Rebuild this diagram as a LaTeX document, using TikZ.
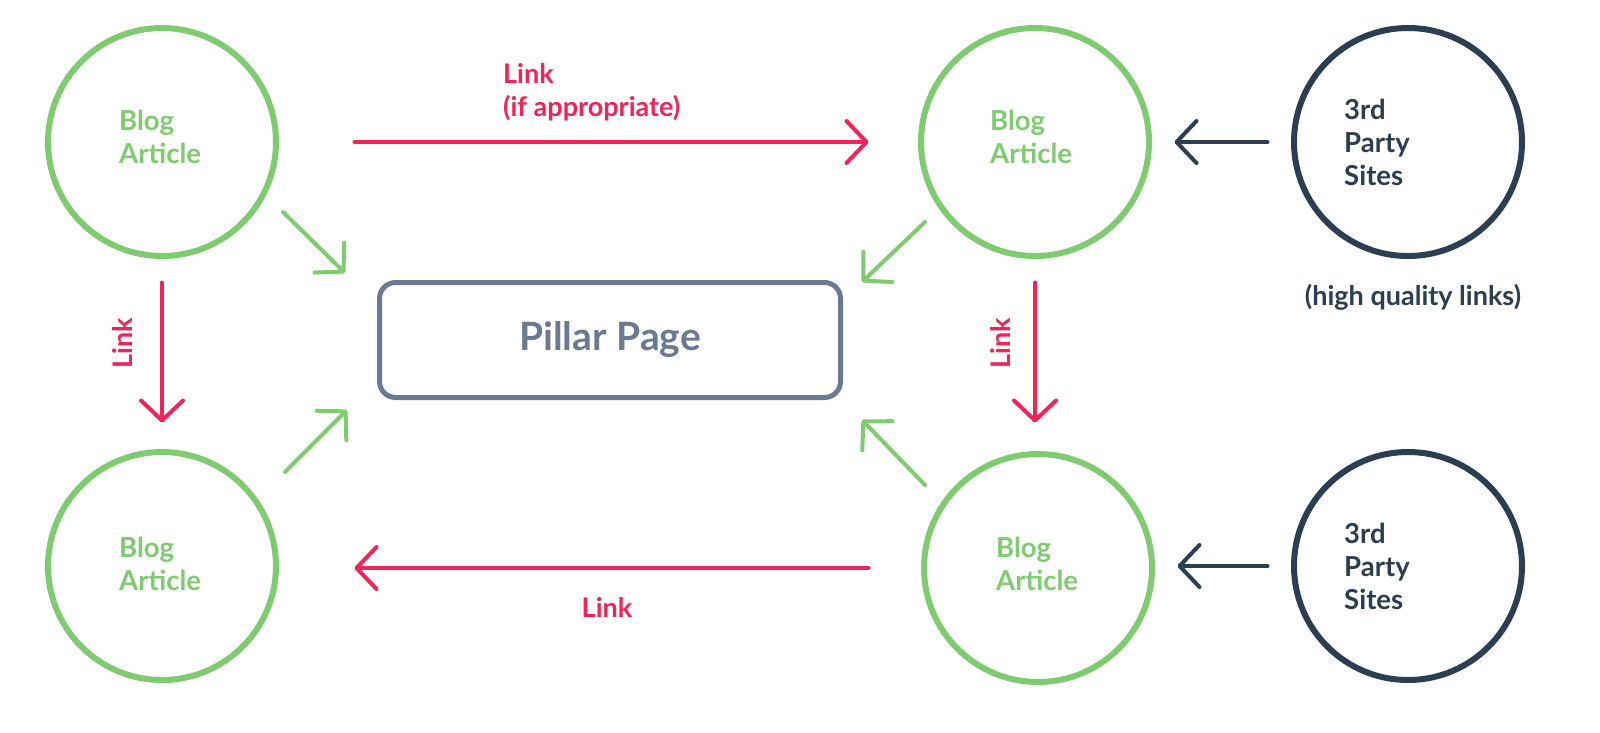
\documentclass[tikz,border=0pt]{standalone}
\usepackage{fontspec}
\setmainfont{Lato}
\usetikzlibrary{arrows.meta}
\definecolor{bgreen}{HTML}{7FCC70}
\definecolor{lred}{HTML}{F02459}
\definecolor{navy}{HTML}{2C3E52}
\definecolor{pgray}{HTML}{6B7A92}
\begin{document}
\begin{tikzpicture}[x=1pt,y=-1pt,
  blogc/.style={circle, draw=bgreen, line width=6pt, minimum size=228pt, inner sep=0pt},
  thirdc/.style={circle, draw=navy, line width=6pt, minimum size=228pt, inner sep=0pt},
  txt/.style={font=\fontsize{27.5}{33}\selectfont\bfseries, align=left, inner sep=0pt, anchor=west},
  lbl/.style={font=\fontsize{27}{33}\selectfont\bfseries, text=lred, inner sep=0pt},
  chevtip/.style={-{Straight Barb[length=20pt,width=42pt,round]}},
  linkarrow/.style={lred, line width=4pt, line cap=round, chevtip},
  greenarrow/.style={bgreen, line width=4pt, line cap=round, chevtip},
  navyarrow/.style={navy, line width=4pt, line cap=round, chevtip}
]
\path[use as bounding box, fill=white] (0,0) rectangle (1600,732);

% circles
\node[blogc] (tl) at (162,142) {};
\node[blogc] (tr) at (1035,142) {};
\node[blogc] (bl) at (162,566) {};
\node[blogc] (br) at (1038,568) {};
\node[thirdc] (s1) at (1408,142) {};
\node[thirdc] (s2) at (1408,566) {};

% circle texts
\node[txt, text=bgreen] (tlt) at (119,137) {Blog\\Article};
\node[txt, text=bgreen] (trt) at (990,137) {Blog\\Article};
\node[txt, text=bgreen] (blt) at (119,564) {Blog\\Article};
\node[txt, text=bgreen] (brt) at (996,564) {Blog\\Article};
\node[txt, text=navy] (s1t) at (1344,142) {3rd\\Party\\Sites};
\node[txt, text=navy] (s2t) at (1344,566) {3rd\\Party\\Sites};
\node[font=\fontsize{27}{32}\selectfont\bfseries, text=navy, inner sep=0pt] (hq) at (1413,297) {(high quality links)};

% pillar page
\node[draw=pgray, line width=5pt, rounded corners=16pt, minimum width=461pt, minimum height=115pt,
      text=pgray, font=\fontsize{39}{44}\selectfont\bfseries] (pp) at (610,340) {Pillar Page};

% red link arrows
\draw[linkarrow, shorten <=75.5pt, shorten >=49.5pt] (tl.east) -- (tr.west);
\draw[linkarrow, shorten <=52.5pt, shorten >=75.5pt] (br.west) -- (br.west -| bl.east);
\draw[linkarrow, shorten <=23.5pt, shorten >=26.5pt] (tl.south) -- (bl.north);
\draw[linkarrow, shorten <=23.5pt, shorten >=28.5pt] (tr.south) -- (tr.south |- br.north);

\node[lbl, rotate=90] (lk1) at (122,343) {Link};
\node[lbl, rotate=90] (lk2) at (1000,343) {Link};
\node[lbl, anchor=west, align=left] (lk3) at (503,92) {Link\\(if appropriate)};
\node[lbl] (lk4) at (607,607) {Link};

% green arrows to pillar
\coordinate (d1s) at (283,212); \coordinate (d1e) at (345,273);
\coordinate (d2s) at (285,472); \coordinate (d2e) at (347,410);
\coordinate (d3s) at (925,222); \coordinate (d3e) at (862,282);
\coordinate (d4s) at (925,485); \coordinate (d4e) at (862,420);
\draw[greenarrow] (d1s) -- (d1e);
\draw[greenarrow] (d2s) -- (d2e);
\draw[greenarrow] (d3s) -- (d3e);
\draw[greenarrow] (d4s) -- (d4e);

% navy arrows
\draw[navyarrow, shorten <=23.5pt, shorten >=22.5pt] (s1.west) -- (tr.east);
\draw[navyarrow, shorten <=23.5pt, shorten >=22.5pt] (s2.west) -- (s2.west -| br.east);
\end{tikzpicture}
\end{document}
